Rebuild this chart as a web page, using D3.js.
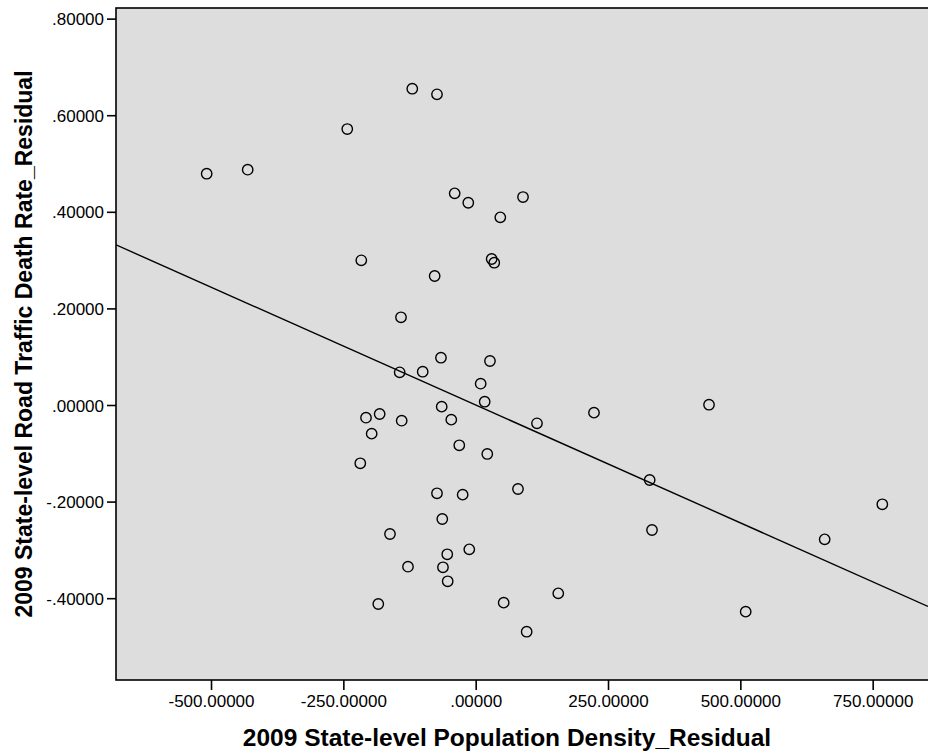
<!DOCTYPE html>
<html>
<head>
<meta charset="utf-8">
<script src="https://cdn.jsdelivr.net/npm/d3@7"></script>
<style>
  body { margin: 0; background: #fff; }
  svg { display: block; font-family: "Liberation Sans", Arial, sans-serif; }
</style>
</head>
<body>
<svg width="928" height="753"></svg>
<script>
// population density residual (x) and road traffic death rate residual (y), one per state
var densityResid = [-119.8, -73.1, -242.6, -508.2, -430.7, -39.7, -14.0, 89.4, 46.5, -216.1,
    30.2, 35.1, -77.5, -141.1, -65.6, 27.0, -143.6, -100.1, 9.4, 17.0,
    -64.2, -207.2, -181.4, -139.8, -46.1, 115.8, 223.5, -196.5, -31.0, 21.9,
    -218.0, -73.1, -24.6, 79.9, -63.1, -161.9, -12.1, -53.7, -127.9, -61.8,
    -52.9, -184.0, 52.9, 156.0, 96.3, 440.8, 328.7, 333.1, 510.1, 659.3, 768.2];
var deathResid = [0.6549, 0.6433, 0.5714, 0.4789, 0.4872, 0.4383, 0.4188, 0.4306, 0.3886, 0.2996,
    0.3023, 0.2946, 0.2671, 0.1816, 0.0979, 0.0911, 0.0677, 0.0689, 0.0441, 0.0068,
    -0.0035, -0.0263, -0.0186, -0.0325, -0.0304, -0.0379, -0.0159, -0.0594, -0.0834, -0.1014,
    -0.1207, -0.1828, -0.1857, -0.1739, -0.2360, -0.2671, -0.2988, -0.3091, -0.3348, -0.3360,
    -0.3650, -0.4120, -0.4093, -0.3899, -0.4694, 0.0006, -0.1553, -0.2588, -0.4279, -0.2781, -0.2056];

var xTicks = [-500, -250, 0, 250, 500, 750];
var yTicks = [-0.4, -0.2, 0, 0.2, 0.4, 0.6, 0.8];

// fit line: y = intercept + slope * x
var fitIntercept = 0.0;
var fitSlope = -0.000488;

var xTitle = "2009 State-level Population Density_Residual";
var yTitle = "2009 State-level Road Traffic Death Rate_Residual";

var svg = d3.select("svg");
var plotLeft = 116, plotRight = 928, plotTop = 8, plotBottom = 680;

var x = d3.scaleLinear().domain([-679.5, 854.5]).range([plotLeft, plotRight]);
var y = d3.scaleLinear().domain([-0.5694, 0.822]).range([plotBottom, plotTop]);

var fmt = d3.formatLocale({decimal: ".", thousands: ",", grouping: [3], currency: ["$", ""], minus: "-"}).format(".5f");
function spssFmt(d) {
    return fmt(d).replace(/^(-?)0\./, "$1.");
}

// plot frame
svg.append("rect")
    .attr("x", plotLeft)
    .attr("y", plotTop)
    .attr("width", plotRight - plotLeft + 10)
    .attr("height", plotBottom - plotTop)
    .style("fill", "#dddddd")
    .style("stroke", "#000")
    .style("stroke-width", "1.6px");

svg.append("clipPath").attr("id", "plot")
    .append("rect")
    .attr("x", plotLeft).attr("y", plotTop)
    .attr("width", plotRight - plotLeft).attr("height", plotBottom - plotTop);

// axes
var xAxis = svg.append("g")
    .attr("transform", "translate(0," + plotBottom + ")")
    .call(d3.axisBottom(x).tickValues(xTicks).tickFormat(spssFmt).tickSize(10).tickPadding(5));

var yAxis = svg.append("g")
    .attr("transform", "translate(" + plotLeft + ",0)")
    .call(d3.axisLeft(y).tickValues(yTicks).tickFormat(spssFmt).tickSize(9).tickPadding(3));

[xAxis, yAxis].forEach(function (g) {
    g.select(".domain").remove();
    g.selectAll(".tick line").style("stroke", "#000").style("stroke-width", "1.6px");
    g.selectAll(".tick text")
        .style("font-size", "17px")
        .style("fill", "#000")
        .style("font-family", "'Liberation Sans', Arial, sans-serif");
});
yAxis.selectAll(".tick text").attr("dy", "0.36em");

// regression line
svg.append("line")
    .attr("clip-path", "url(#plot)")
    .attr("x1", x(x.domain()[0]))
    .attr("y1", y(fitIntercept + fitSlope * x.domain()[0]))
    .attr("x2", x(x.domain()[1]))
    .attr("y2", y(fitIntercept + fitSlope * x.domain()[1]))
    .style("stroke", "#000")
    .style("stroke-width", "1.4px");

// points
svg.append("g")
    .selectAll("circle")
    .data(densityResid)
    .enter().append("circle")
    .attr("cx", function (d) { return x(d); })
    .attr("cy", function (d, i) { return y(deathResid[i]); })
    .attr("r", 5.2)
    .style("fill", "none")
    .style("stroke", "#000")
    .style("stroke-width", "1.4px");

// titles
svg.append("text")
    .attr("x", 507)
    .attr("y", 746)
    .attr("text-anchor", "middle")
    .style("font-size", "24.5px")
    .style("font-weight", "bold")
    .text(xTitle);

svg.append("text")
    .attr("transform", "translate(32,344) rotate(-90)")
    .attr("text-anchor", "middle")
    .style("font-size", "23px")
    .style("font-weight", "bold")
    .text(yTitle);
</script>
</body>
</html>
